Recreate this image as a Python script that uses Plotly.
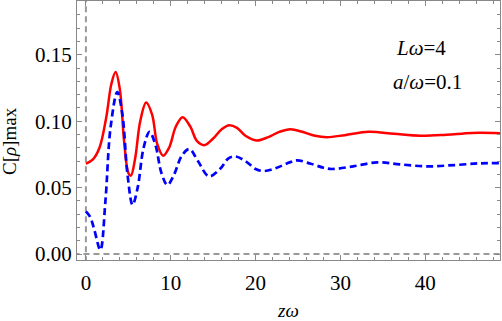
import plotly.graph_objects as go

# C[rho]max against z*omega
red_x = [0, 0.8, 1.6, 2.4, 3.0, 3.5, 4.0, 4.5, 5.0, 5.3, 5.8, 6.4, 7.1, 7.8, 8.4, 9.1,
         9.8, 10.6, 11.4, 12.3, 13.1, 14.0, 15.0, 16.0, 16.9, 17.8, 18.8, 20.1, 21.5,
         22.8, 24.1, 25.5, 27.0, 28.4, 30.5, 33.3, 36.3, 39.4, 42.5, 45.5, 48.9]
red_y = [0.068, 0.071, 0.080, 0.103, 0.128, 0.137, 0.124, 0.085, 0.061, 0.059, 0.072,
         0.100, 0.114, 0.105, 0.083, 0.074, 0.080, 0.096, 0.103, 0.096, 0.085, 0.082,
         0.087, 0.094, 0.097, 0.095, 0.089, 0.0855, 0.088, 0.092, 0.094, 0.092, 0.089,
         0.088, 0.0895, 0.092, 0.0905, 0.089, 0.0898, 0.0912, 0.0910]

blue_x = [0, 0.5, 1.0, 1.7, 2.3, 2.9, 3.7, 4.3, 4.9, 5.5, 6.1, 6.8, 7.5, 8.2, 8.9, 9.6,
          10.4, 11.3, 12.2, 13.2, 14.5, 15.8, 16.8, 17.6, 18.8, 20.0, 21.0, 22.5, 24.0,
          24.9, 26.5, 28.0, 29.0, 31.5, 34.3, 37.0, 40.2, 43.5, 46.5, 48.9]
blue_y = [0.032, 0.028, 0.018, 0.003, 0.040, 0.095, 0.122, 0.105, 0.060, 0.037, 0.050,
          0.080, 0.092, 0.082, 0.061, 0.052, 0.060, 0.074, 0.079, 0.070, 0.0585, 0.064,
          0.072, 0.0735, 0.070, 0.064, 0.0625, 0.065, 0.069, 0.0705, 0.068, 0.065, 0.064,
          0.066, 0.069, 0.0675, 0.066, 0.0670, 0.0683, 0.0685]

x_ticks = [0, 10, 20, 30, 40]
y_ticks = [0.00, 0.05, 0.10, 0.15]
y_labels = ["0.00", "0.05", "0.10", "0.15"]

serif = "Liberation Serif"

fig = go.Figure()

# gray dashed reference lines at x=0 and y=0
fig.add_trace(go.Scatter(x=[0, 0], y=[-1, 1], mode="lines",
                         line=dict(color="#999999", width=2, dash="6px,4px"), hoverinfo="skip"))
fig.add_trace(go.Scatter(x=[-5, 60], y=[0, 0], mode="lines",
                         line=dict(color="#999999", width=2, dash="6px,4px"), hoverinfo="skip"))

fig.add_trace(go.Scatter(x=red_x, y=red_y, mode="lines", line_shape="spline",
                         line=dict(color="#ff0000", width=2.5)))
fig.add_trace(go.Scatter(x=blue_x, y=blue_y, mode="lines", line_shape="spline",
                         line=dict(color="#0000ff", width=2.7, dash="7px,4px")))

axis_style = dict(showline=True, linecolor="#888888", linewidth=1, mirror="allticks",
                  ticks="inside", ticklen=5, tickcolor="#888888", tickwidth=1,
                  showgrid=False, zeroline=False, automargin=False,
                  tickfont=dict(family=serif, size=21, color="black"))

fig.update_xaxes(range=[-1.05, 48.8], tickvals=x_ticks, ticklabelstandoff=4,
                 minor=dict(dtick=2, ticks="inside", ticklen=3, tickcolor="#888888"),
                 title=dict(text="<i>zω</i>", font=dict(family=serif, size=19, color="black"),
                            standoff=18),
                 **axis_style)
fig.update_yaxes(range=[-0.0045, 0.1905], tickvals=y_ticks, ticktext=y_labels,
                 minor=dict(dtick=0.01, ticks="inside", ticklen=3, tickcolor="#888888"),
                 **axis_style)

fig.update_layout(
    width=502, height=321,
    margin=dict(l=77, r=2, t=1, b=61),
    paper_bgcolor="white", plot_bgcolor="white",
    showlegend=False,
    annotations=[
        dict(text="C[<i>ρ</i>]max", textangle=-90, x=-0.158, y=0.46, xref="paper", yref="paper",
             xanchor="center", yanchor="middle",
             showarrow=False, font=dict(family=serif, size=19, color="black")),
        dict(text="<i>L</i><i>ω</i>=4", x=0.813, y=0.819, xref="paper", yref="paper",
             xanchor="center", yanchor="middle",
             showarrow=False, font=dict(family=serif, size=21, color="black")),
        dict(text="<i>a</i>/<i>ω</i>=0.1", x=0.829, y=0.687, xref="paper", yref="paper",
             xanchor="center", yanchor="middle",
             showarrow=False, font=dict(family=serif, size=21, color="black")),
    ],
)

# page body has an 8px margin by default; drop it so the figure fills the window
fig.write_html("out.html", config={"displayModeBar": False},
               post_script="document.body.style.margin='0';")
